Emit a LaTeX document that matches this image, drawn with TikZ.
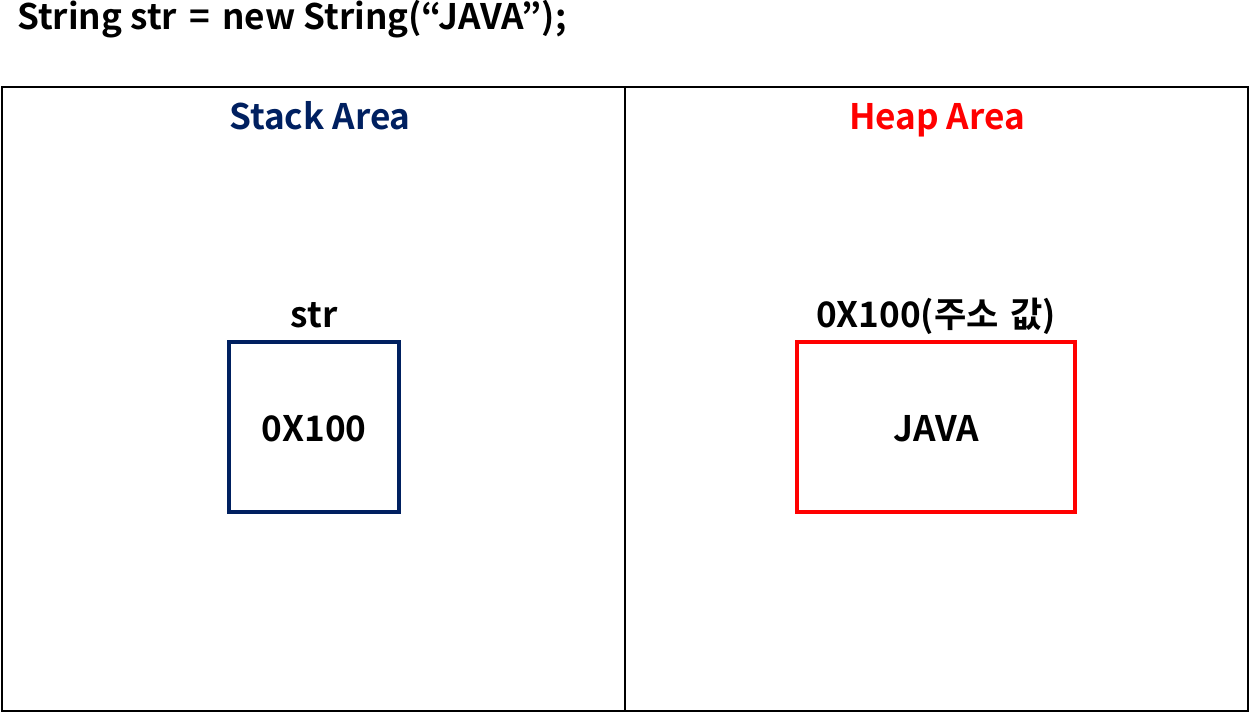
\documentclass[tikz,border=0pt]{standalone}
\usepackage{fontspec}
\setmainfont{Noto Sans CJK KR}[BoldFont={Noto Sans CJK KR Bold}]
\definecolor{stacknavy}{HTML}{002060}
\definecolor{heapred}{HTML}{FF0000}
\begin{document}
\begin{tikzpicture}[x=0.02cm, y=-0.02cm,
    every node/.style={font=\bfseries\fontsize{20}{24}\selectfont, inner sep=0pt, anchor=base},
    area/.style={draw, line width=1.1pt},
    cell/.style={draw, line width=2.2pt, minimum height=3.4cm, anchor=center}]
    \useasboundingbox (0,0) rectangle (1250,713);
    \node[anchor=base west] (code) at (17,30) {String str\hspace{0.12em} =\hspace{0.12em} new String(“JAVA”);};

    \draw[area] (2,87) rectangle (1248,711);
    \draw[area] (625,87) -- (625,711);

    \node[text=stacknavy] (stack) at (320,130) {Stack Area};
    \node[text=heapred] (heap) at (937,130) {Heap Area};

    \node[cell, draw=stacknavy, minimum width=3.4cm] (ref) at (314,427) {};
    \node[cell, draw=heapred, minimum width=5.56cm] (obj) at (936,427) {};
    \node (refval) at (314,441) {0X100};
    \node (objval) at (936,441) {JAVA};

    \node (refname) at (314,327) {str};
    \node (objaddr) at (936,327) {0X100(주소\hspace{0.1em} 값)};
\end{tikzpicture}
\end{document}
